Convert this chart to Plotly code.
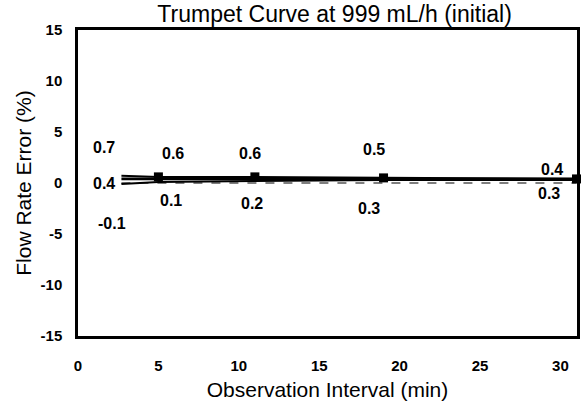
import plotly.graph_objects as go

# observation windows (min) and flow-rate errors (%)
windows = [2.7, 5, 11, 19, 31]
max_err = [0.7, 0.6, 0.6, 0.5, 0.4]
min_err = [-0.1, 0.1, 0.2, 0.3, 0.3]
overall_err = 0.4
marker_windows = [5, 11, 19, 31]
marker_vals = [0.6, 0.6, 0.5, 0.4]
x_ticks = [0, 5, 10, 15, 20, 25, 30]
y_ticks = [-15, -10, -5, 0, 5, 10, 15]

FONT = "Liberation Sans, Arial, sans-serif"

fig = go.Figure()
fig.add_trace(go.Scatter(x=[windows[0], windows[-1]], y=[0, 0], mode="lines",
                         line=dict(color="#555555", width=1.5, dash="dash")))
fig.add_trace(go.Scatter(x=windows, y=max_err, mode="lines",
                         line=dict(color="black", width=2)))
fig.add_trace(go.Scatter(x=windows, y=min_err, mode="lines",
                         line=dict(color="black", width=2)))
fig.add_trace(go.Scatter(x=[windows[0], windows[-1]], y=[overall_err, overall_err],
                         mode="lines", line=dict(color="black", width=2.8)))
fig.add_trace(go.Scatter(x=marker_windows, y=marker_vals, mode="markers",
                         marker=dict(symbol="square", size=9, color="black"),
                         cliponaxis=False))

# label placement (data coords) for each value
max_lbl_pos = [(1.6, 3.5), (5.9, 2.9), (10.7, 2.9), (18.4, 3.25), (29.5, 1.3)]
min_lbl_pos = [(2.1, -4.0), (5.8, -1.7), (10.8, -2.0), (18.1, -2.5), (29.3, -1.0)]
for (x, y), v in zip(max_lbl_pos, max_err):
    fig.add_annotation(x=x, y=y, text=f"<b>{v}</b>", showarrow=False)
for (x, y), v in zip(min_lbl_pos, min_err):
    fig.add_annotation(x=x, y=y, text=f"<b>{v}</b>", showarrow=False)
fig.add_annotation(x=1.6, y=0, text=f"<b>{overall_err}</b>", showarrow=False)
fig.update_annotations(font=dict(family=FONT, size=16, color="black"))

fig.update_layout(
    width=585, height=409,
    margin=dict(l=78, r=8, t=30, b=73),
    paper_bgcolor="white", plot_bgcolor="white",
    showlegend=False,
    font=dict(family=FONT, color="black"),
    title=dict(text="Trumpet Curve at 999 mL/h (initial)", x=0.572, xanchor="center",
               yref="container", y=1 - 14 / 409, yanchor="middle", font=dict(size=23)),
)
fig.update_xaxes(range=[0, 31.03], tickvals=x_ticks, ticktext=[str(t) for t in x_ticks],
                 showgrid=False, zeroline=False, showline=True, linecolor="black",
                 linewidth=2.5, mirror=True, ticks="", automargin=False,
                 ticklabelstandoff=14,
                 tickfont=dict(size=15, family=FONT, weight="bold"),
                 title=dict(text="Observation Interval (min)", font=dict(size=21), standoff=10))
fig.update_yaxes(range=[-15, 15], tickvals=y_ticks, ticktext=[str(t) for t in y_ticks],
                 showgrid=False, zeroline=False, showline=True, linecolor="black",
                 linewidth=2.5, mirror=True, ticks="", automargin=False,
                 ticklabelstandoff=10,
                 tickfont=dict(size=15, family=FONT, weight="bold"),
                 title=dict(text="Flow Rate Error (%)", font=dict(size=21), standoff=4))

# drop the default 8px body margin so the figure sits at the page corner
fig.write_html("out.html", config={"displayModeBar": False},
               post_script="document.body.style.margin='0';")
